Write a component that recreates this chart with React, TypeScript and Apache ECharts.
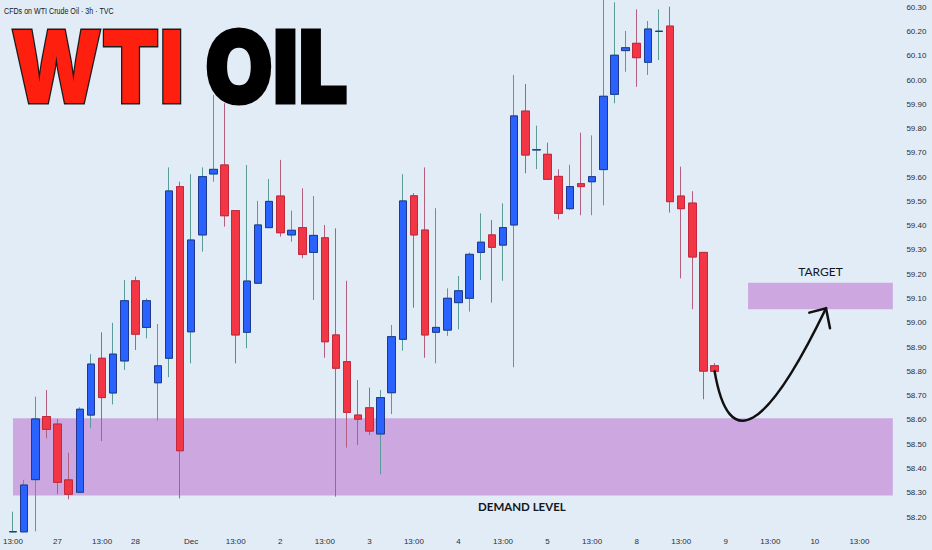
import React, { useEffect, useRef } from "react";
import * as echarts from "echarts";

// ---- data -----------------------------------------------------------
const subtitle = "CFDs on WTI Crude Oil · 3h · TVC";
const slotCount = 80; // 64 bars + empty future slots
const tickIndex = [0, 4, 8, 11, 16, 20, 24, 28, 32, 36, 40, 44, 48, 52, 56, 60, 64, 68, 72, 76];
const tickText = ["13:00", "27", "13:00", "28", "Dec", "13:00", "2", "13:00", "3", "13:00", "4", "13:00", "5", "13:00", "8", "13:00", "9", "13:00", "10", "13:00"];

const opens = [58.139, 58.139, 58.354, 58.614, 58.583, 58.353, 58.302, 58.620, 58.854, 58.711, 58.843, 59.173, 58.981, 58.753, 58.854, 59.561, 58.963, 59.362, 59.613, 59.650, 59.462, 58.961, 59.163, 59.392, 59.522, 59.362, 59.392, 59.290, 59.350, 58.950, 58.840, 58.620, 58.650, 58.542, 58.712, 58.932, 59.523, 59.382, 58.961, 58.970, 59.083, 59.101, 59.290, 59.362, 59.320, 59.403, 59.872, 59.712, 59.694, 59.603, 59.470, 59.573, 59.581, 59.631, 59.941, 60.121, 60.151, 60.073, 60.200, 60.222, 59.522, 59.493, 59.290, 58.823];
const closes = [58.14, 58.332, 58.604, 58.561, 58.343, 58.294, 58.644, 58.830, 58.692, 58.871, 59.091, 58.953, 59.091, 58.823, 59.543, 58.473, 59.341, 59.602, 59.632, 59.441, 58.950, 59.172, 59.403, 59.500, 59.371, 59.381, 59.282, 59.360, 58.922, 58.813, 58.631, 58.603, 58.554, 58.692, 58.943, 59.502, 59.362, 58.950, 58.981, 59.101, 59.132, 59.282, 59.332, 59.311, 59.392, 59.852, 59.691, 59.713, 59.591, 59.451, 59.561, 59.561, 59.602, 59.933, 60.102, 60.133, 60.092, 60.210, 60.201, 59.499, 59.470, 59.271, 58.801, 58.800];
const lows = [58.138, 58.138, 58.141, 58.524, 58.294, 58.273, 58.302, 58.566, 58.513, 58.664, 58.806, 58.888, 58.936, 58.597, 58.776, 58.277, 58.833, 59.293, 59.581, 59.396, 58.833, 58.895, 59.163, 59.392, 59.355, 59.334, 59.266, 59.094, 58.856, 58.284, 58.486, 58.497, 58.538, 58.376, 58.624, 58.885, 59.062, 58.856, 58.833, 58.946, 58.973, 59.046, 59.176, 59.083, 59.173, 58.817, 59.616, 59.633, 59.591, 59.426, 59.465, 59.443, 59.443, 59.484, 59.904, 60.034, 59.972, 60.021, 60.082, 59.454, 59.183, 59.056, 58.685, 58.798];
const highs = [58.222, 58.353, 58.696, 58.723, 58.604, 58.465, 58.652, 58.871, 58.961, 59.000, 59.176, 59.19, 59.10, 58.995, 59.640, 59.581, 59.612, 59.640, 59.938, 59.904, 59.462, 59.650, 59.502, 59.592, 59.671, 59.462, 59.554, 59.522, 59.403, 59.389, 59.173, 58.764, 58.733, 58.723, 58.991, 59.612, 59.534, 59.640, 59.472, 59.142, 59.193, 59.290, 59.451, 59.423, 59.492, 60.021, 59.984, 59.812, 59.742, 59.632, 59.651, 59.783, 59.772, 60.35, 60.32, 60.202, 60.291, 60.243, 60.291, 60.302, 59.643, 59.542, 59.290, 58.834];

const yMin = 58.1384;
const yMax = 60.3295;
const lastPrice = 58.8;
const demandZone = [58.607, 58.289]; // top, bottom
const demandStart = 0;
const targetZone = [59.165, 59.056];
const targetStart = 66;
const zoneEnd = 79;
// projected path: [bar index, price]
const arrowPath: [number, number][] = [[63, 58.80], [64.9, 58.29], [73.0, 59.06]];

// ---- colours ---------------------------------------------------------
const BG = "#e1ecf7";
const UP = "#2962ff";
const DOWN = "#f23645";
const UP_BORDER = "#1f3a8c";
const DOWN_BORDER = "#c22a3c";
const UP_WICK = "#5a9b98";
const DOWN_WICK = "#b0607e";
const ZONE = "#cda8e0";
const TEXT = "#131722";

export default function App() {
  const ref = useRef<HTMLDivElement>(null);
  useEffect(() => {
    document.body.style.margin = "0";
    document.body.style.background = BG;
    const el = ref.current!;
    const chart = echarts.init(el, null, { renderer: "svg" });

    const categories = Array.from({ length: slotCount }, (_, i) => "s" + i);
    const labelAt: Record<number, string> = {};
    tickIndex.forEach((k, i) => (labelAt[k] = tickText[i]));

    const full = opens.map((o, i) => [o, closes[i], lows[i], highs[i]]);
    const bodies = opens.map((o, i) => [o, closes[i], Math.min(o, closes[i]), Math.max(o, closes[i])]);

    const font = "Liberation Sans";

    const option: any = {
      animation: false,
      backgroundColor: BG,
      grid: { left: 4, right: 33.6, top: 0, bottom: 18, containLabel: false },
      xAxis: {
        type: "category",
        data: categories,
        boundaryGap: true,
        axisLine: { show: false },
        axisTick: { show: false },
        splitLine: { show: false },
        axisLabel: {
          interval: 0,
          margin: 5,
          color: "#2a2e39",
          fontSize: 8,
          fontFamily: font,
          formatter: (_v: string, i: number) => labelAt[i] ?? "",
        },
      },
      yAxis: {
        type: "value",
        position: "right",
        min: yMin,
        max: yMax,
        splitNumber: 22,
        axisLine: { show: false },
        axisTick: { show: false },
        splitLine: { show: false },
        axisLabel: {
          margin: 8,
          color: "#2a2e39",
          fontSize: 8,
          fontFamily: font,
          showMinLabel: false,
          showMaxLabel: false,
          formatter: (v: number) => v.toFixed(2),
        },
      },
      series: [
        {
          type: "candlestick",
          name: "wicks",
          data: full,
          barWidth: 8,
          silent: true,
          itemStyle: {
            color: UP_WICK,
            color0: DOWN_WICK,
            borderColor: UP_WICK,
            borderColor0: DOWN_WICK,
            borderWidth: 1,
          },
          markArea: {
            silent: true,
            itemStyle: { color: ZONE },
            data: [
              [
                {
                  xAxis: demandStart,
                  yAxis: demandZone[0],
                  name: "DEMAND LEVEL",
                  label: {
                    show: true,
                    position: "bottom",
                    distance: 5,
                    offset: [69, 0],
                    color: TEXT,
                    fontSize: 11.5,
                    fontFamily: "Lato",
                    fontWeight: "bold",
                  },
                },
                { xAxis: zoneEnd, yAxis: demandZone[1] },
              ],
              [
                {
                  xAxis: targetStart,
                  yAxis: targetZone[0],
                  name: "TARGET",
                  label: {
                    show: true,
                    position: "top",
                    distance: 5,
                    color: TEXT,
                    fontSize: 12,
                    fontFamily: "Lato",
                  },
                },
                { xAxis: zoneEnd, yAxis: targetZone[1] },
              ],
            ],
          },
        },
        {
          type: "candlestick",
          name: "bodies",
          data: bodies,
          barWidth: 8,
          silent: true,
          itemStyle: {
            color: UP,
            color0: DOWN,
            borderColor: UP_BORDER,
            borderColor0: DOWN_BORDER,
            borderWidth: 1,
          },
          markLine: {
            silent: true,
            symbol: "none",
            lineStyle: { opacity: 0 },
            data: [
              {
                yAxis: lastPrice,
                label: {
                  show: true,
                  position: "end",
                  distance: 4,
                  formatter: lastPrice.toFixed(2),
                  backgroundColor: DOWN,
                  color: "#ffffff",
                  fontSize: 8,
                  fontFamily: font,
                  padding: [2, 3],
                },
              },
            ],
          },
        },
      ],
    };
    chart.setOption(option);

    const toPx = (kf: number, v: number) => {
      const k0 = Math.floor(kf);
      const a = chart.convertToPixel({ gridIndex: 0 }, [k0, v]) as number[];
      const b = chart.convertToPixel({ gridIndex: 0 }, [k0 + 1, v]) as number[];
      return [a[0] + (b[0] - a[0]) * (kf - k0), a[1]];
    };
    const [p0, p1, p2] = arrowPath.map(([k, v]) => toPx(k, v));

    chart.setOption({
      graphic: [
        {
          type: "text",
          x: 4,
          y: 11,
          scaleX: 0.79,
          style: {
            text: subtitle,
            fontSize: 9,
            fontFamily: font,
            fill: TEXT,
            textAlign: "left",
            textVerticalAlign: "middle",
            align: "left",
            verticalAlign: "middle",
          },
        },
        {
          type: "text",
          x: 11,
          y: 67,
          scaleX: 0.84,
          style: {
            text: "WTI",
            fontSize: 100,
            fontWeight: 900,
            fontFamily: "Inter",
            fill: "#ff1f0f",
            stroke: "#1b1b1b",
            lineWidth: 3,
            textAlign: "left",
            textVerticalAlign: "middle",
            align: "left",
            verticalAlign: "middle",
          },
        },
        {
          type: "text",
          x: 205,
          y: 67,
          scaleX: 0.875,
          style: {
            text: "OIL",
            fontSize: 100,
            fontWeight: 900,
            fontFamily: "Inter",
            fill: "#000000",
            stroke: "#000000",
            lineWidth: 3,
            textAlign: "left",
            textVerticalAlign: "middle",
            align: "left",
            verticalAlign: "middle",
          },
        },
        {
          type: "bezierCurve",
          shape: { x1: p0[0], y1: p0[1], cpx1: p1[0], cpy1: p1[1], x2: p2[0], y2: p2[1] },
          style: { stroke: "#111111", lineWidth: 2.5, fill: "none", lineCap: "round" },
          z: 100,
        },
        {
          type: "polyline",
          shape: {
            points: [
              [p2[0] - 16.7, p2[1] + 4.4],
              [p2[0], p2[1]],
              [p2[0] + 4, p2[1] + 20],
            ],
          },
          style: { stroke: "#111111", lineWidth: 2.5, fill: "none", lineJoin: "miter", lineCap: "round" },
          z: 100,
        },
      ],
    });

    return () => chart.dispose();
  }, []);

  return <div ref={ref} style={{ width: 932, height: 550 }} />;
}
